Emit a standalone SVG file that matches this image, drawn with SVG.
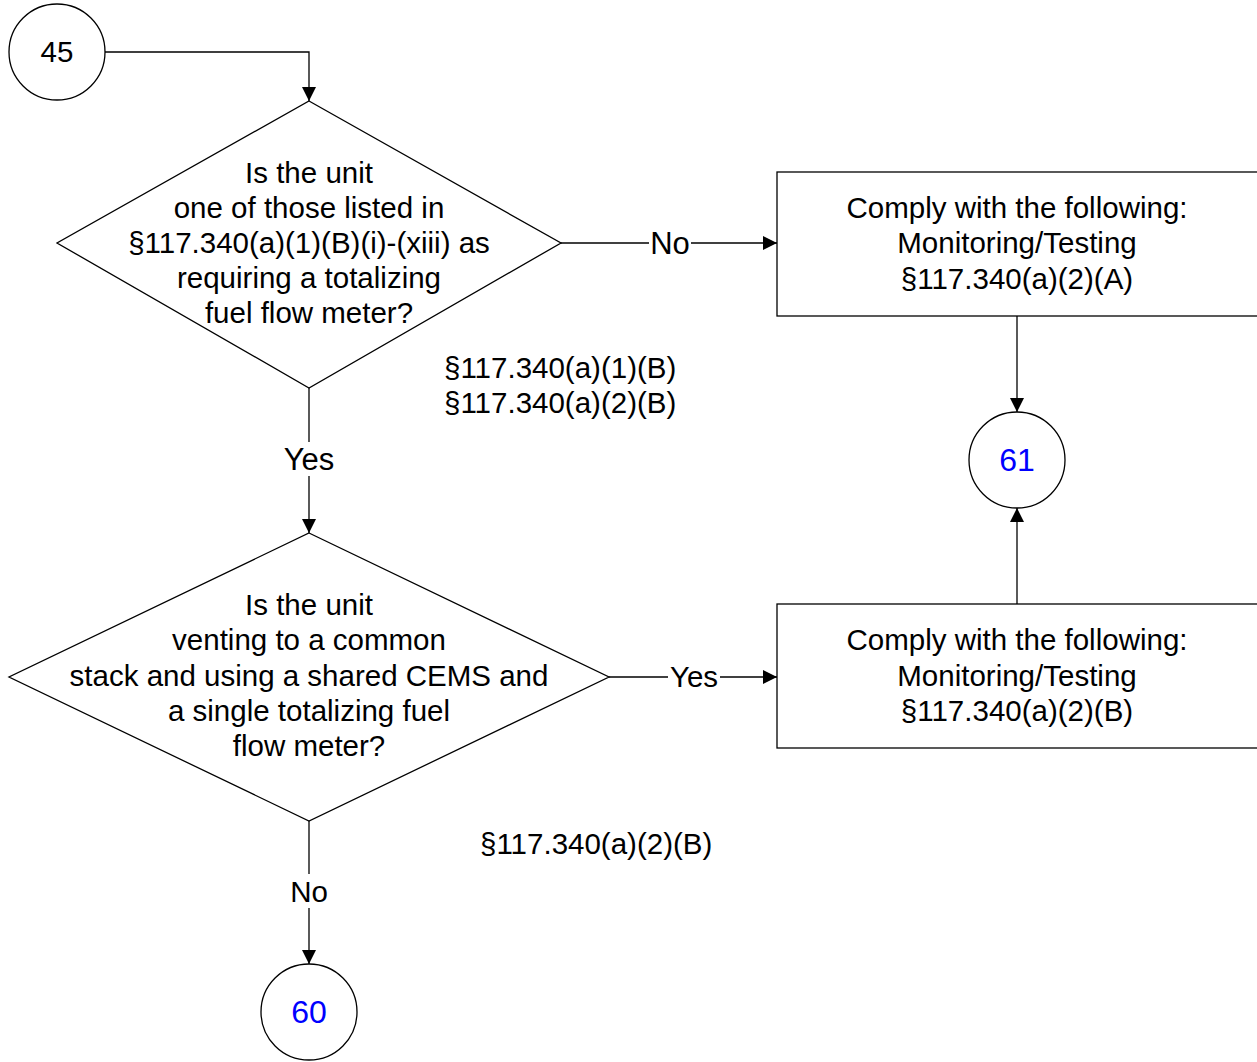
<svg xmlns="http://www.w3.org/2000/svg" width="1257" height="1062" viewBox="0 0 1257 1062">
<style>
.s{fill:#fff;stroke:#000;stroke-width:1.3}
.c{fill:none;stroke:#000;stroke-width:1.3}
text{font-family:"Liberation Sans",Arial,sans-serif;font-size:29.5px;text-anchor:middle;fill:#000}
.b{fill:#0000ff;font-size:32px}
.l{text-anchor:start}
.k{font-size:31px}
.lb{fill:#fff;stroke:none}
</style>
<defs>
<marker id="a" markerWidth="14" markerHeight="14" refX="14" refY="7" orient="auto" markerUnits="userSpaceOnUse">
<path d="M0,0 L14,7 L0,14 Z" fill="#000"/>
</marker>
</defs>
<rect width="1257" height="1062" fill="#fff"/>
<g id="connectors">
<path class="c" d="M105,52 H309 V101" marker-end="url(#a)"/>
<path class="c" d="M561,243 H777" marker-end="url(#a)"/>
<path class="c" d="M309,388 V533" marker-end="url(#a)"/>
<path class="c" d="M1017,316 V412" marker-end="url(#a)"/>
<path class="c" d="M609,677 H777" marker-end="url(#a)"/>
<path class="c" d="M1017,604 V508" marker-end="url(#a)"/>
<path class="c" d="M309,821 V964" marker-end="url(#a)"/>
<rect class="lb" x="649" y="226" width="42" height="34"/>
<text class="k" x="670" y="254">No</text>
<rect class="lb" x="281" y="442" width="57" height="34"/>
<text class="k" x="309" y="470">Yes</text>
<rect class="lb" x="668" y="660" width="52" height="34"/>
<text x="694" y="687">Yes</text>
<rect class="lb" x="288" y="874" width="42" height="34"/>
<text x="309" y="902">No</text>
</g>
<g id="n45">
<circle class="s" cx="57" cy="52" r="48"/>
<text x="57" y="62">45</text>
</g>
<g id="d1">
<polygon class="s" points="309,101 561,243 309,388 57,243"/>
<text x="309" y="183">Is the unit</text>
<text x="309" y="218">one of those listed in</text>
<text x="309" y="253">§117.340(a)(1)(B)(i)-(xiii) as</text>
<text x="309" y="288">requiring a totalizing</text>
<text x="309" y="323">fuel flow meter?</text>
</g>
<g id="ref1">
<text class="l" x="444" y="378">§117.340(a)(1)(B)</text>
<text class="l" x="444" y="413">§117.340(a)(2)(B)</text>
</g>
<g id="box1">
<rect class="s" x="777" y="172" width="500" height="144"/>
<text x="1017" y="218">Comply with the following:</text>
<text x="1017" y="253">Monitoring/Testing</text>
<text x="1017" y="289">§117.340(a)(2)(A)</text>
</g>
<g id="n61">
<circle class="s" cx="1017" cy="460" r="48"/>
<text class="b" x="1017" y="471">61</text>
</g>
<g id="d2">
<polygon class="s" points="309,533 609,677 309,821 9,677"/>
<text x="309" y="615">Is the unit</text>
<text x="309" y="650">venting to a common</text>
<text x="309" y="686">stack and using a shared CEMS and</text>
<text x="309" y="721">a single totalizing fuel</text>
<text x="309" y="756">flow meter?</text>
</g>
<g id="ref2">
<text class="l" x="480" y="854">§117.340(a)(2)(B)</text>
</g>
<g id="box2">
<rect class="s" x="777" y="604" width="500" height="144"/>
<text x="1017" y="650">Comply with the following:</text>
<text x="1017" y="686">Monitoring/Testing</text>
<text x="1017" y="721">§117.340(a)(2)(B)</text>
</g>
<g id="n60">
<circle class="s" cx="309" cy="1012" r="48"/>
<text class="b" x="309" y="1023">60</text>
</g>
</svg>
